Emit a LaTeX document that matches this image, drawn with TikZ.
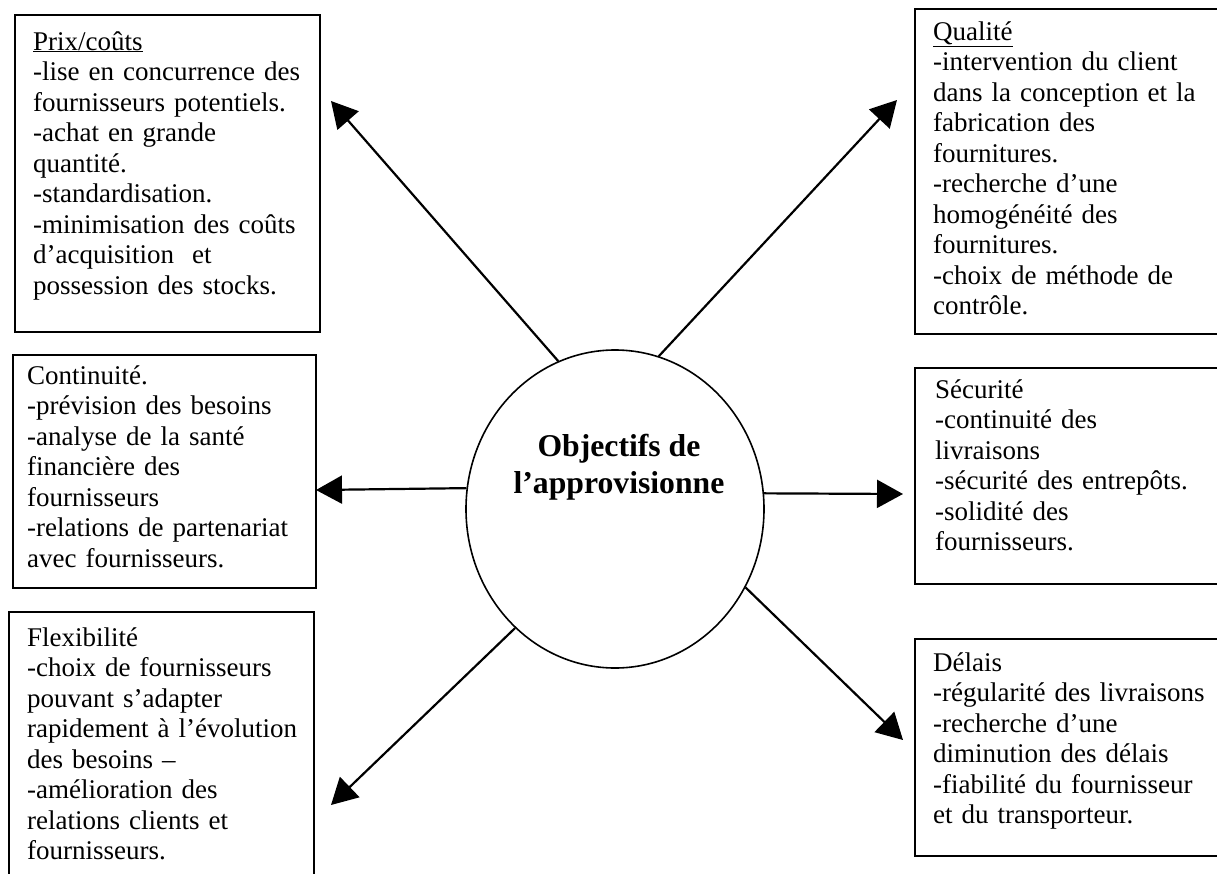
\documentclass[tikz,border=0pt]{standalone}
\usepackage{fontspec}
\setmainfont{Liberation Serif}
\usetikzlibrary{arrows.meta,shapes.geometric}
\begin{document}
\begin{tikzpicture}[x=1bp,y=-1bp,
  box/.style={draw=black, line width=2bp, inner sep=0pt, anchor=north west},
  txt/.style={inner sep=0pt, anchor=base west, text width=300bp, align=left,
              font=\fontsize{27bp}{30.5bp}\selectfont},
  arr/.style={line width=2.2bp, -{Triangle[length=26bp,width=28bp]}},
  hub/.style={draw=black, line width=1.6bp, ellipse, inner sep=0pt,
              minimum width=298bp, minimum height=318bp},
]
\clip (0,0) rectangle (1217,874);
\fill[white] (0,0) rectangle (1217,874);

% boxes
\node[box, minimum width=305bp, minimum height=317bp] (prix) at (14,14) {};
\node[box, minimum width=308bp, minimum height=325bp] (qual) at (914,8) {};
\node[box, minimum width=303bp, minimum height=233bp] (cont) at (12,354) {};
\node[box, minimum width=308bp, minimum height=216bp] (secu) at (914,367) {};
\node[box, minimum width=305bp, minimum height=275bp] (flex) at (8,611) {};
\node[box, minimum width=308bp, minimum height=217bp] (dela) at (914,638) {};

% texts
\node[txt] (prixt) at (33,50) {\underline{Prix/coûts}\\-lise en concurrence des\\fournisseurs potentiels.\\-achat en grande\\quantité.\\-standardisation.\\-minimisation des coûts\\d’acquisition\ \ et\\possession des stocks.};
\node[txt] (qualt) at (933,40) {\underline{Qualité}\\-intervention du client\\dans la conception et la\\fabrication des\\fournitures.\\-recherche d’une\\homogénéité des\\fournitures.\\-choix de méthode de\\contrôle.};
\node[txt] (contt) at (27,384) {Continuité.\\-prévision des besoins\\-analyse de la santé\\financière des\\fournisseurs\\-relations de partenariat\\avec fournisseurs.};
\node[txt] (secut) at (935,398) {Sécurité\\-continuité des\\livraisons\\-sécurité des entrepôts.\\-solidité des\\fournisseurs.};
\node[txt] (flext) at (27,646) {Flexibilité\\-choix de fournisseurs\\pouvant s’adapter\\rapidement à l’évolution\\des besoins –\\-amélioration des\\relations clients et\\fournisseurs.};
\node[txt] (delat) at (933,671) {Délais\\-régularité des livraisons\\-recherche d’une\\diminution des délais\\-fiabilité du fournisseur\\et du transporteur.};

% hub
\node[hub] (c) at (615,509) {};
\node[inner sep=0pt, anchor=base, align=center,
      font=\bfseries\fontsize{31.7bp}{37bp}\selectfont] (ct) at (619,493)
      {Objectifs de\\l’approvisionne};

% arrow tips
\coordinate (tprix) at (331,101);
\coordinate (tqual) at (897,100);
\coordinate (tcont) at (316,490);
\coordinate (tsecu) at (903,494);
\coordinate (tflex) at (331,805);
\coordinate (tdela) at (903,740);

\draw[arr] (c.111) -- (tprix);
\draw[arr] (c.74) -- (tqual);
\draw[arr] (c.172) -- (tcont);
\draw[arr] (c.6.5) -- (tsecu);
\draw[arr] (c.230) -- (tflex);
\draw[arr] (c.329) -- (tdela);
\end{tikzpicture}
\end{document}
